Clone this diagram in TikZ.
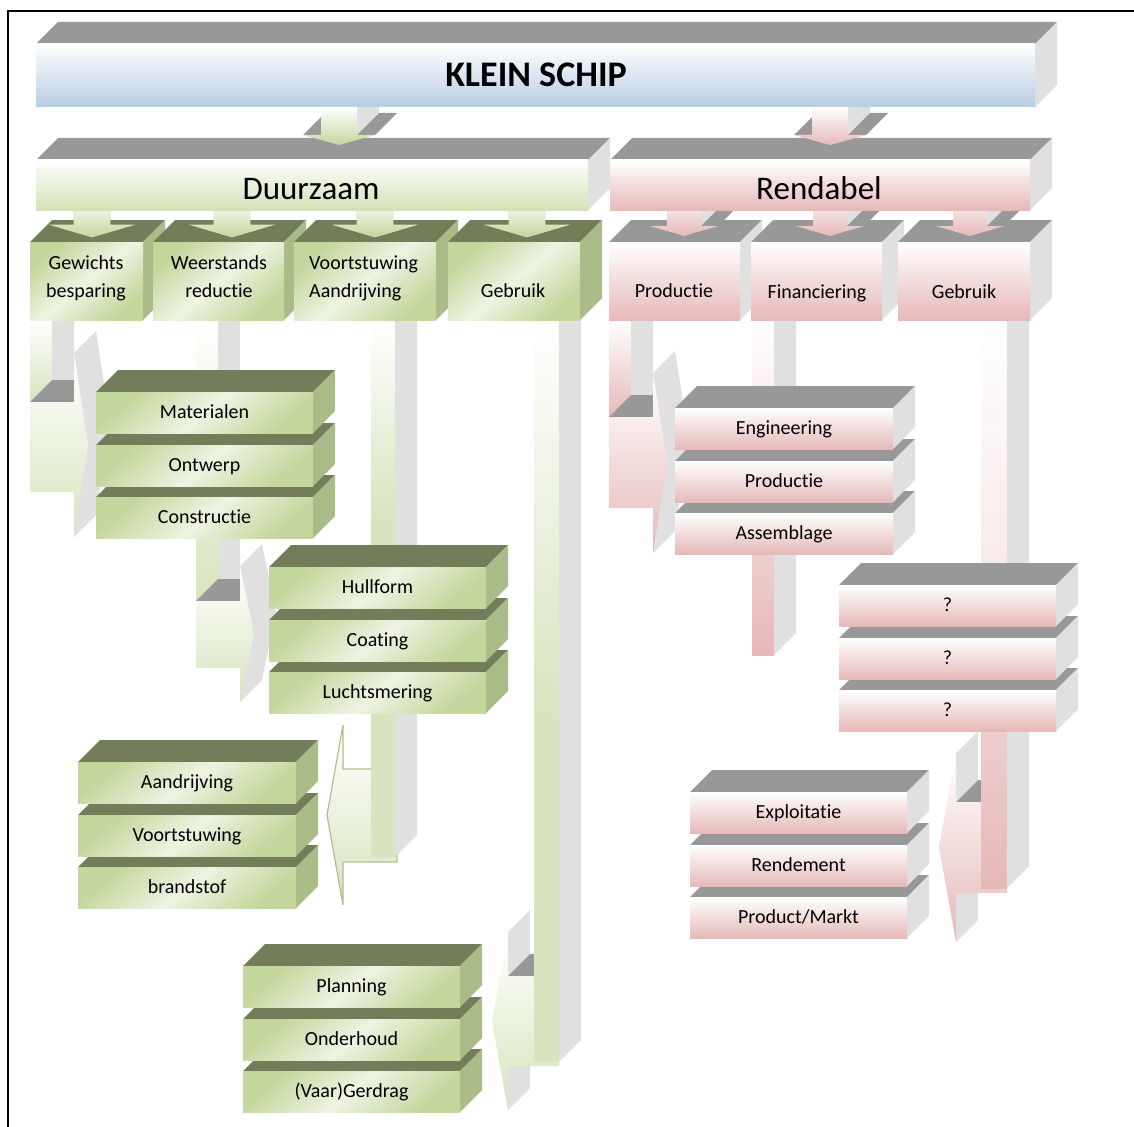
\documentclass[tikz,border=0pt]{standalone}
\usepackage{fontspec}
\setmainfont{Carlito}[Ligatures={NoCommon,NoRare}, RawFeature={-liga;-dlig}]
\definecolor{topgray}{HTML}{989898}
\definecolor{sidegray}{HTML}{E0E0E0}
\definecolor{gtop}{HTML}{737D5A}
\definecolor{gside}{HTML}{A9BB86}
\definecolor{gA}{HTML}{C3D69B}
\definecolor{gL}{HTML}{EEF3E3}
\definecolor{gM}{HTML}{D7E4BD}
\definecolor{pk}{HTML}{E6B9B8}
\definecolor{bl}{HTML}{B8CCE4}
\tikzset{
  gfront/.style={top color=gA, bottom color=gA, middle color=gL, shading angle=40},
  pfront/.style={top color=white, bottom color=pk},
  lbl/.style={font=\fontsize{20}{24}\selectfont, inner sep=0pt, text height=12.9pt, text depth=0pt},
  big/.style={font=\fontsize{33}{40}\selectfont, inner sep=0pt, text height=21.3pt, text depth=0pt},
  title/.style={font=\fontsize{36}{42}\selectfont\bfseries, inner sep=0pt, text height=23.2pt, text depth=0pt},
}
% 3D box: x1,y1,x2,y2 (front face), front style, top colour, side colour
\newcommand{\cubeshape}[7]{%
  \fill[#6] (#1,#2) -- ++(22,-22) -- ({#3+22},{#2-22}) -- (#3,#2) -- cycle;
  \fill[#7] (#3,#2) -- ++(22,-22) -- ({#3+22},{#4-22}) -- (#3,#4) -- cycle;
  \path[#5] (#1,#2) rectangle (#3,#4);
}
% stack of three boxes, drawn bottom first: x1,x2,ytop,front style,top,side
\newcommand{\stackof}[6]{%
  \cubeshape{#1}{#3+105}{#2}{#3+146}{#4}{#5}{#6}
  \cubeshape{#1}{#3+53}{#2}{#3+94}{#4}{#5}{#6}
  \cubeshape{#1}{#3}{#2}{#3+41}{#4}{#5}{#6}
}
% bent 3D arrow to the right
\newcommand{\bentright}[9]{%
  \path[top color=white, bottom color=#9] (#1,#2) rectangle ({#1+22},#3);
  \fill[sidegray] ({#1+22},#2) -- ++(22,-22) -- ({#1+44},{#3-22}) -- ({#1+22},#3) -- cycle;
  \fill[sidegray] ({#1+44},#5) -- ++(22,-22) -- ({#7+22},{#8-22}) -- ({#1+66},{#6-22}) -- ({#1+44},#6) -- cycle;
  \fill[topgray] (#1,#3) -- ({#1+44},#3) -- ({#1+44},{#3-22}) -- ({#1+22},{#3-22}) -- cycle;
  \path[top color=white, bottom color=#9] (#1,#3) -- ({#1+44},#3) -- ({#1+44},#5) -- (#7,#8) -- ({#1+44},#6) -- ({#1+44},#4) -- (#1,#4) -- cycle;
}
% flat green arrow down
\newcommand{\gdarrow}[1]{%
  \path[top color=gL, bottom color=gA, draw=gM, line width=0.6pt] ({#1-18},210) -- ({#1-18},225) -- ({#1-41},225) -- (#1,237) -- ({#1+41},225) -- ({#1+18},225) -- ({#1+18},210) -- cycle;
}
% pink 3D arrow down
\newcommand{\pdarrow}[1]{%
  \fill[sidegray] ({#1+17},210) -- ({#1+39},188) -- ({#1+39},204) -- ({#1+17},226) -- cycle;
  \fill[topgray] ({#1+17},226) -- ({#1+34},226) -- ({#1+56},204) -- ({#1+39},204) -- cycle;
  \path[top color=pk!40, bottom color=pk] ({#1-17},210) -- ({#1-17},226) -- ({#1-34},226) -- (#1,236) -- ({#1+34},226) -- ({#1+17},226) -- ({#1+17},210) -- cycle;
}
% 3D arrow down from the title
\newcommand{\kdarrow}[2]{%
  \fill[sidegray] ({#1+18},107) -- ({#1+40},85) -- ({#1+40},113) -- ({#1+18},135) -- cycle;
  \fill[topgray] ({#1+18},135) -- ({#1+36},135) -- ({#1+58},113) -- ({#1+40},113) -- cycle;
  \fill[topgray] ({#1-36},135) -- ({#1-18},135) -- ({#1+4},113) -- ({#1-14},113) -- cycle;
  \path[top color=white, bottom color=#2] ({#1-18},107) -- ({#1-18},135) -- ({#1-36},135) -- (#1,145) -- ({#1+36},135) -- ({#1+18},135) -- ({#1+18},107) -- cycle;
}
\begin{document}
\begin{tikzpicture}[x=1pt,y=-1pt]
\useasboundingbox (0,0) rectangle (1134,1126);
\draw[line width=1.6pt] (8,1135) -- (8,11) -- (1140,11);

% ---------- lower connectors ----------
\bentright{30}{320}{402}{492}{353}{537}{88}{445}{gM}
\bentright{196}{320}{601}{668}{566}{702}{254}{634}{gM}
\bentright{609}{320}{417}{508}{373}{553}{667}{462}{pk}

% Voortstuwing: flat left arrow
\path[top color=white, bottom color=gM, draw=gA!85!black!90, line width=1.2pt]
  (397,769) -- (343,769) -- (343,725) -- (327,815) -- (343,905) -- (343,862) -- (397,862) -- cycle;
\path[top color=white, bottom color=gM] (371,320) rectangle (395,520);
\fill[gM] (371,519) rectangle (395,857);
\fill[sidegray] (395,320) -- (417,298) -- (417,835) -- (395,857) -- cycle;

% Gebruik (green): 3D left arrow
\fill[sidegray] (508,932) -- (530,910) -- (530,954) -- (508,976) -- cycle;
\fill[sidegray] (508,1066) -- (530,1044) -- (530,1088) -- (508,1110) -- cycle;
\fill[topgray] (508,976) -- (534,976) -- (534,954) -- (530,954) -- cycle;
\path[top color=white, bottom color=gM] (559,976) -- (508,976) -- (508,932) -- (492,1022) -- (508,1110) -- (508,1066) -- (559,1066) -- cycle;
\path[top color=white, bottom color=gM] (534,320) rectangle (559,720);
\fill[gM] (534,719) rectangle (559,1062);
\fill[sidegray] (559,320) -- (581,298) -- (581,1040) -- (559,1062) -- cycle;

% Financiering bar
\path[top color=white, bottom color=pk] (752,320) rectangle (774,655);
\fill[sidegray] (774,320) -- (796,298) -- (796,633) -- (774,655) -- cycle;

% Gebruik (pink): 3D left arrow
\fill[sidegray] (956,753) -- (978,731) -- (978,780) -- (956,802) -- cycle;
\fill[sidegray] (956,893) -- (978,871) -- (978,920) -- (956,942) -- cycle;
\fill[topgray] (956,802) -- (981,802) -- (981,780) -- (978,780) -- cycle;
\path[top color=white, bottom color=pk] (1007,802) -- (956,802) -- (956,753) -- (939,847) -- (956,942) -- (956,893) -- (1007,893) -- cycle;
\path[top color=white, bottom color=pk!40] (981,320) rectangle (1007,640);
\path[top color=pk!55, bottom color=pk] (981,639) rectangle (1007,888);
\fill[sidegray] (1007,320) -- (1029,298) -- (1029,866) -- (1007,888) -- cycle;

% ---------- stacks ----------
\stackof{96}{313}{392}{gfront}{gtop}{gside}
\stackof{269}{486}{567}{gfront}{gtop}{gside}
\stackof{78}{296}{762}{gfront}{gtop}{gside}
\stackof{243}{460}{966}{gfront}{gtop}{gside}
\stackof{675}{893}{408}{pfront}{topgray}{sidegray}
\stackof{839}{1056}{585}{pfront}{topgray}{sidegray}
\stackof{690}{907}{792}{pfront}{topgray}{sidegray}

% ---------- second row ----------
\cubeshape{30}{242}{143}{320}{gfront}{gtop}{gside}
\cubeshape{153}{242}{284}{320}{gfront}{gtop}{gside}
\cubeshape{294}{242}{436}{320}{gfront}{gtop}{gside}
\cubeshape{448}{242}{580}{320}{gfront}{gtop}{gside}
\cubeshape{609}{242}{740}{320}{pfront}{topgray}{sidegray}
\cubeshape{751}{242}{882}{320}{pfront}{topgray}{sidegray}
\cubeshape{898}{242}{1030}{320}{pfront}{topgray}{sidegray}

\gdarrow{92}
\gdarrow{232}
\gdarrow{375}
\gdarrow{527}
\pdarrow{684}
\pdarrow{830}
\pdarrow{970}

% ---------- first row ----------
\cubeshape{36}{160}{588}{210}{top color=white, bottom color=gM!80!gA}{topgray}{sidegray}
\cubeshape{610}{160}{1030}{210}{top color=white, bottom color=pk}{topgray}{sidegray}

\kdarrow{339}{gA}
\kdarrow{830}{pk}

% ---------- title ----------
\cubeshape{36}{44}{1035}{107}{top color=white, bottom color=bl}{topgray}{sidegray}

% ---------- texts ----------
\node[title] (klein) at (536,75) {KLEIN SCHIP};
\node[big] (duurzaam) at (311,189) {Duurzaam};
\node[big] (rendabel) at (819,189) {Rendabel};

\node[lbl] (gew1) at (86,263) {Gewichts};
\node[lbl] (gew2) at (86,291) {besparing};
\node[lbl] (wee1) at (219,263) {Weerstands};
\node[lbl] (wee2) at (219,291) {reductie};
\node[lbl, anchor=west] (voo1) at (309,263) {Voortstuwing};
\node[lbl, anchor=west] (voo2) at (309,291) {Aandrijving};
\node[lbl] (gebg) at (513,291) {Gebruik};
\node[lbl] (prod) at (674,291) {Productie};
\node[lbl] (fin) at (817,292) {Financiering};
\node[lbl] (gebp) at (964,292) {Gebruik};

\node[lbl] (mat) at (204.5,412.5) {Materialen};
\node[lbl] (ont) at (204.5,465.5) {Ontwerp};
\node[lbl] (con) at (204.5,517.5) {Constructie};

\node[lbl] (hul) at (377.5,587.5) {Hullform};
\node[lbl] (coa) at (377.5,640.5) {Coating};
\node[lbl] (luc) at (377.5,692.5) {Luchtsmering};

\node[lbl] (aan) at (187,782.5) {Aandrijving};
\node[lbl] (voo) at (187,835.5) {Voortstuwing};
\node[lbl] (bra) at (187,887.5) {brandstof};

\node[lbl] (pla) at (351.5,986.5) {Planning};
\node[lbl] (ond) at (351.5,1039.5) {Onderhoud};
\node[lbl] (vaa) at (351.5,1091.5) {(Vaar)Gerdrag};

\node[lbl] (eng) at (784,428.5) {Engineering};
\node[lbl] (pro2) at (784,481.5) {Productie};
\node[lbl] (ass) at (784,533.5) {Assemblage};

\node[lbl] (q1) at (947.5,605.5) {?};
\node[lbl] (q2) at (947.5,658.5) {?};
\node[lbl] (q3) at (947.5,710.5) {?};

\node[lbl] (exp) at (798.5,812.5) {Exploitatie};
\node[lbl] (ren) at (798.5,865.5) {Rendement};
\node[lbl] (pm) at (798.5,917.5) {Product/Markt};
\end{tikzpicture}
\end{document}
